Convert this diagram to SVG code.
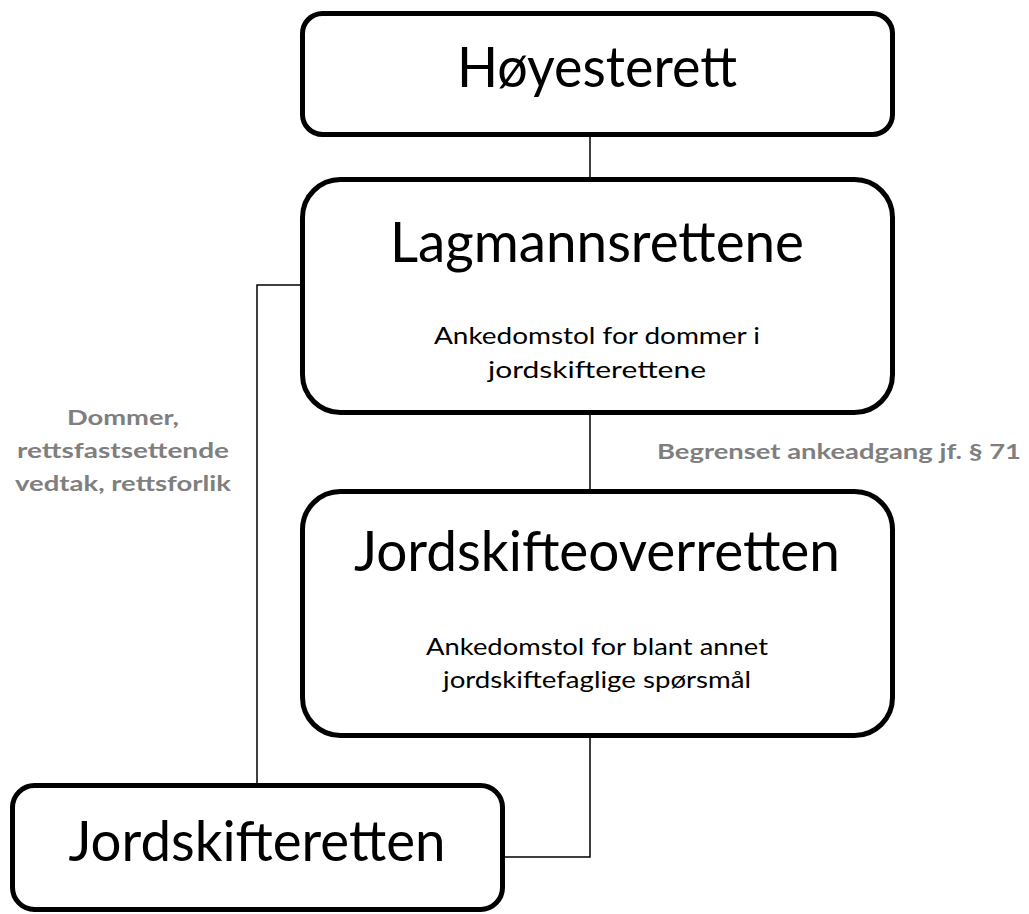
<svg xmlns="http://www.w3.org/2000/svg" width="1029" height="914" viewBox="0 0 1029 914">
<style>
.box{fill:#fff;stroke:#000;stroke-width:5}
.conn{fill:none;stroke:#000;stroke-width:1.5}
.t{font-family:Lato,"Open Sans","Liberation Sans",sans-serif;fill:#000;text-anchor:middle}
.big{font-size:57px}
.small{font-size:24px}
.lbl{font-family:Lato,"Open Sans","Liberation Sans",sans-serif;font-weight:bold;font-size:21px;fill:#7f7f7f;text-anchor:middle}
</style>
<rect width="1029" height="914" fill="#fff"/>
<g id="connectors">
<line class="conn" x1="590" y1="137" x2="590" y2="177"/>
<line class="conn" x1="590" y1="414" x2="590" y2="489"/>
<polyline class="conn" points="590,738 590,857 505,857"/>
<polyline class="conn" points="300,285 257,285 257,783"/>
</g>
<g id="hoyesterett">
<rect class="box" x="302.5" y="13.5" width="590" height="121" rx="20"/>
<text class="t big" x="597" y="87" textLength="280" lengthAdjust="spacingAndGlyphs">Høyesterett</text>
</g>
<g id="lagmannsrettene">
<rect class="box" x="302.5" y="179.5" width="590" height="233" rx="38"/>
<text class="t big" x="597" y="262" textLength="414" lengthAdjust="spacingAndGlyphs">Lagmannsrettene</text>
<text class="t small" x="597" y="344" textLength="326" lengthAdjust="spacingAndGlyphs">Ankedomstol for dommer i</text>
<text class="t small" x="597" y="378" textLength="218" lengthAdjust="spacingAndGlyphs">jordskifterettene</text>
</g>
<g id="jordskifteoverretten">
<rect class="box" x="302.5" y="491.5" width="590" height="244" rx="38"/>
<text class="t big" x="597" y="571" textLength="486" lengthAdjust="spacingAndGlyphs">Jordskifteoverretten</text>
<text class="t small" x="597" y="655" textLength="342" lengthAdjust="spacingAndGlyphs">Ankedomstol for blant annet</text>
<text class="t small" x="597" y="688" textLength="308" lengthAdjust="spacingAndGlyphs">jordskiftefaglige spørsmål</text>
</g>
<g id="jordskifteretten">
<rect class="box" x="12.5" y="785.5" width="490" height="124" rx="22"/>
<text class="t big" x="257" y="861" textLength="377" lengthAdjust="spacingAndGlyphs">Jordskifteretten</text>
</g>
<g id="labels">
<text class="lbl" x="839" y="459" textLength="364" lengthAdjust="spacingAndGlyphs">Begrenset ankeadgang jf. § 71</text>
<text class="lbl" x="123" y="425" textLength="112" lengthAdjust="spacingAndGlyphs">Dommer,</text>
<text class="lbl" x="123" y="458" textLength="212" lengthAdjust="spacingAndGlyphs">rettsfastsettende</text>
<text class="lbl" x="123" y="491" textLength="216" lengthAdjust="spacingAndGlyphs">vedtak, rettsforlik</text>
</g>
</svg>
